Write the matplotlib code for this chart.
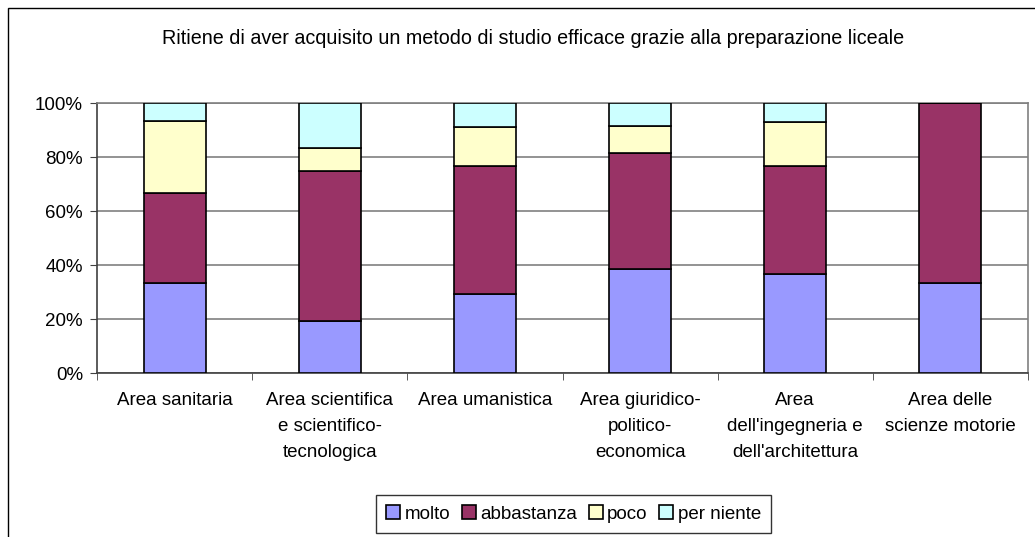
import numpy as np
import matplotlib
matplotlib.use("Agg")
from matplotlib import pyplot as plt
from matplotlib.patches import Rectangle

plt.rcParams['font.family'] = ['Liberation Sans', 'DejaVu Sans']

# categories and stacked percentages
categories = ["Area sanitaria",
              "Area scientifica\ne scientifico-\ntecnologica",
              "Area umanistica",
              "Area giuridico-\npolitico-\neconomica",
              "Area\ndell'ingegneria e\ndell'architettura",
              "Area delle\nscienze motorie"]
molto = [33.3, 19.4, 29.4, 38.6, 36.8, 33.3]
abbastanza = [33.3, 55.6, 47.1, 42.8, 39.9, 66.7]
poco = [26.7, 8.3, 14.7, 10.1, 16.1, 0.0]
per_niente = [6.7, 16.7, 8.8, 8.5, 7.2, 0.0]

series_names = ["molto", "abbastanza", "poco", "per niente"]
series_colors = ["#9999FF", "#993366", "#FFFFCC", "#CCFFFF"]
title = "Ritiene di aver acquisito un metodo di studio efficace grazie alla preparazione liceale"

W, H = 1035, 537
fig = plt.figure(figsize=(W / 100, H / 100), dpi=100)

# outer chart frame (cut at right and bottom like the original)
fig.patches.append(Rectangle((8 / W, -0.1), 1.2, (H - 8) / H + 0.1, transform=fig.transFigure,
                             fill=False, edgecolor="black", linewidth=1.0))

# plot area in pixels: left 97, right 1028, top 103, bottom 373
ax = fig.add_axes([97 / W, 1 - 373 / H, (1028 - 97) / W, (373 - 103) / H])

x = np.arange(len(categories))
data = [molto, abbastanza, poco, per_niente]
tot = np.array(molto) + np.array(abbastanza) + np.array(poco) + np.array(per_niente)
bottom = np.zeros(len(categories))
for vals, name, col in zip(data, series_names, series_colors):
    frac = np.array(vals) / tot * 100
    ax.bar(x, frac, width=0.4, bottom=bottom, color=col, edgecolor="black",
           linewidth=1.2, label=name, zorder=3)
    bottom += frac

ax.set_xlim(-0.5, len(categories) - 0.5)
ax.set_ylim(0, 100)
ax.set_yticks(np.arange(0, 101, 20))
ax.set_yticklabels([f"{v}%" for v in range(0, 101, 20)], fontsize=13.5)
ax.yaxis.grid(True, color="#808080", linewidth=1.2, zorder=0)

ax.set_xticks(x)
ax.set_xticklabels(categories, fontsize=13.5, linespacing=1.68, va="top")
ax.tick_params(axis="x", length=0, pad=14)
ax.set_xticks(np.arange(-0.5, len(categories) + 0.5, 1), minor=True)
ax.tick_params(axis="x", which="minor", length=5, direction="out", color="#404040")
ax.tick_params(axis="y", length=5, direction="out", color="#404040", pad=5)

for side in ["top", "right"]:
    ax.spines[side].set_color("#808080")
    ax.spines[side].set_linewidth(1.2)
for side in ["left", "bottom"]:
    ax.spines[side].set_color("#404040")
    ax.spines[side].set_linewidth(1.2)

fig.text(533 / W, 1 - 38 / H, title, ha="center", va="center", fontsize=14.2)

leg = fig.legend(loc="center", bbox_to_anchor=(573.5 / W, 1 - 514 / H), ncol=4, fontsize=13.5,
                 frameon=True, fancybox=False, handlelength=0.75, handleheight=0.75,
                 handletextpad=0.25, columnspacing=0.6, borderpad=0.55, borderaxespad=0)
leg.get_frame().set_edgecolor("black")
leg.get_frame().set_linewidth(1.0)

fig.savefig("out.png", dpi=100)
